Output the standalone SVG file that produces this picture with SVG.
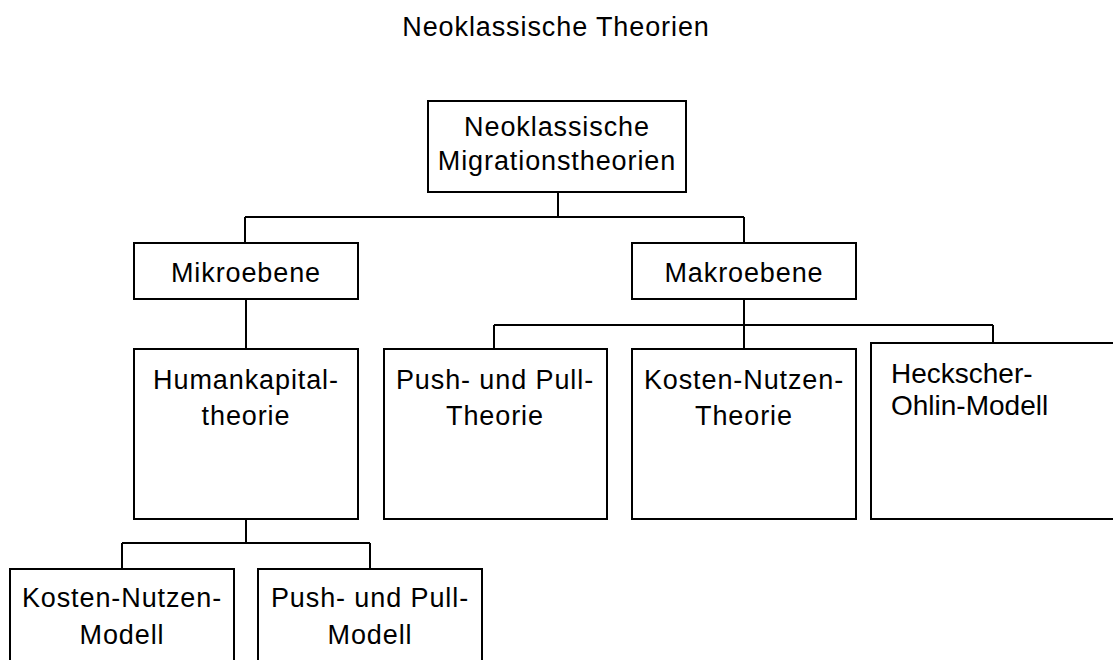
<svg xmlns="http://www.w3.org/2000/svg" width="1113" height="660" viewBox="0 0 1113 660">
<style>
.box{fill:#fff;stroke:#000;stroke-width:2}
.lbl{font-family:"Liberation Sans",Arial,sans-serif;font-size:27px;letter-spacing:0.9px;fill:#000;text-anchor:middle}
.plain{font-family:"Liberation Sans",Arial,sans-serif;font-size:28px;fill:#000}
.conn{fill:none;stroke:#000;stroke-width:2}
</style>
<rect width="1113" height="660" fill="#fff"/>
<text class="lbl" x="556" y="36">Neoklassische Theorien</text>
<g id="connectors">
<path class="conn" d="M558,192V217M245,217H744M245,217V243M744,217V243"/>
<path class="conn" d="M246,299V349"/>
<path class="conn" d="M744,299V349M494,325H993M494,325V349M993,325V343"/>
<path class="conn" d="M246,519V543M122,543H370M122,543V569M370,543V569"/>
</g>
<g id="n-root">
<rect class="box" x="428" y="101" width="258" height="91"/>
<text class="lbl" x="557" y="136">Neoklassische</text>
<text class="lbl" x="557" y="170">Migrationstheorien</text>
</g>
<g id="n-mikro">
<rect class="box" x="134" y="243" width="224" height="56"/>
<text class="lbl" x="246" y="282">Mikroebene</text>
</g>
<g id="n-makro">
<rect class="box" x="632" y="243" width="224" height="56"/>
<text class="lbl" x="744" y="282">Makroebene</text>
</g>
<g id="n-humankapital">
<rect class="box" x="134" y="349" width="224" height="170"/>
<text class="lbl" x="246" y="389">Humankapital-</text>
<text class="lbl" x="246" y="425">theorie</text>
</g>
<g id="n-pushpull-theorie">
<rect class="box" x="384" y="349" width="223" height="170"/>
<text class="lbl" x="495" y="389">Push- und Pull-</text>
<text class="lbl" x="495" y="425">Theorie</text>
</g>
<g id="n-kosten-theorie">
<rect class="box" x="632" y="349" width="224" height="170"/>
<text class="lbl" x="744" y="389">Kosten-Nutzen-</text>
<text class="lbl" x="744" y="425">Theorie</text>
</g>
<g id="n-heckscher">
<rect class="box" x="871" y="343" width="260" height="176"/>
<text class="plain" x="891" y="383">Heckscher-</text>
<text class="plain" x="891" y="415">Ohlin-Modell</text>
</g>
<g id="n-kosten-modell">
<rect class="box" x="10" y="569" width="224" height="120"/>
<text class="lbl" x="122" y="607">Kosten-Nutzen-</text>
<text class="lbl" x="122" y="644">Modell</text>
</g>
<g id="n-pushpull-modell">
<rect class="box" x="258" y="569" width="224" height="120"/>
<text class="lbl" x="370" y="607">Push- und Pull-</text>
<text class="lbl" x="370" y="644">Modell</text>
</g>
</svg>
